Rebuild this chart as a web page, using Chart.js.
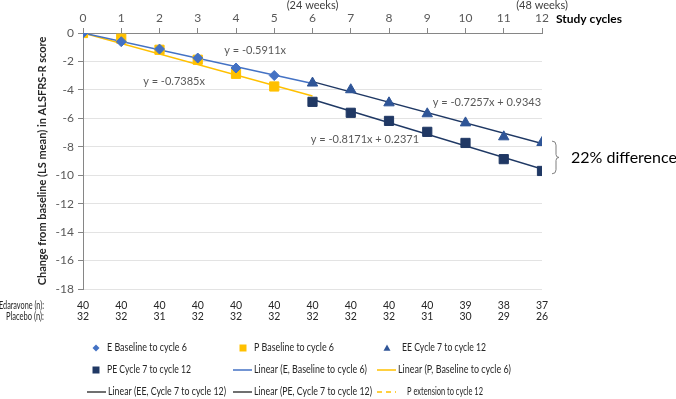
<!DOCTYPE html>
<html>
<head>
<meta charset="utf-8">
<script src="https://cdn.jsdelivr.net/npm/chart.js@4.4.1/dist/chart.umd.min.js"></script>
<style>
  body { margin: 0; background: #fff; }
  canvas { display: block; }
</style>
</head>
<body>
<canvas id="alsChart" width="676" height="399"></canvas>
<script>
// study cycles (top axis)
const cyclesBase = [0, 1, 2, 3, 4, 5];
const cyclesExt = [6, 7, 8, 9, 10, 11, 12];
const cyclesAll = [0, 1, 2, 3, 4, 5, 6, 7, 8, 9, 10, 11, 12];

// LS mean change from baseline
const eBaseline = [0, -0.61, -1.13, -1.76, -2.46, -2.99];
const pBaseline = [0, -0.40, -1.18, -1.88, -2.87, -3.76];
const eeCycles = [-3.52, -3.99, -4.91, -5.68, -6.32, -7.30, -7.70];
const peCycles = [-4.84, -5.61, -6.18, -6.95, -7.73, -8.87, -9.70];

// trend line end points
const eTrendX = [0, 6];
const eTrendY = [0, -3.55];
const pTrendX = [0, 6];
const pTrendY = [0, -4.43];
const eeTrendX = [6, 12];
const eeTrendY = [-3.42, -7.77];
const peTrendX = [6, 12];
const peTrendY = [-4.67, -9.57];

// patients per cycle
const edaravoneN = [40, 40, 40, 40, 40, 40, 40, 40, 40, 40, 39, 38, 37];
const placeboN = [32, 32, 31, 32, 32, 32, 32, 32, 32, 31, 30, 29, 26];

const equations = ['y = -0.5911x', 'y = -0.7385x', 'y = -0.7257x + 0.9343', 'y = -0.8171x + 0.2371'];

const FONT = 'Lato, "Open Sans", sans-serif';

function toPoints(xs, ys) {
    return xs.map((x, i) => ({ x: x, y: ys[i] }));
}

const datasets = [
    { label: 'E Baseline to cycle 6', data: toPoints(cyclesBase, eBaseline), pointStyle: 'rectRot', pointRadius: 5,
      backgroundColor: '#4472c4', borderColor: '#4472c4', showLine: false, order: 1 },
    { label: 'P Baseline to cycle 6', data: toPoints(cyclesBase, pBaseline), pointStyle: 'rect', pointRadius: 6.5,
      backgroundColor: '#ffc000', borderColor: '#ffc000', showLine: false, order: 1 },
    { label: 'EE Cycle 7 to cycle 12', data: toPoints(cyclesExt, eeCycles), pointStyle: 'triangle', pointRadius: 6,
      backgroundColor: '#2f5597', borderColor: '#2f5597', showLine: false, order: 1 },
    { label: 'PE Cycle 7 to cycle 12', data: toPoints(cyclesExt, peCycles), pointStyle: 'rect', pointRadius: 6.5,
      backgroundColor: '#203864', borderColor: '#203864', showLine: false, order: 1 },
    { label: 'Linear (E, Baseline to cycle 6)', data: toPoints(eTrendX, eTrendY), showLine: true, pointRadius: 0,
      borderColor: '#4472c4', borderWidth: 1.5, order: 2 },
    { label: 'Linear (P, Baseline to cycle 6)', data: toPoints(pTrendX, pTrendY), showLine: true, pointRadius: 0,
      borderColor: '#ffc000', borderWidth: 1.5, order: 2 },
    { label: 'Linear (EE, Cycle 7 to cycle 12)', data: toPoints(eeTrendX, eeTrendY), showLine: true, pointRadius: 0,
      borderColor: '#1f3864', borderWidth: 1.5, order: 2 },
    { label: 'Linear (PE, Cycle 7 to cycle 12)', data: toPoints(peTrendX, peTrendY), showLine: true, pointRadius: 0,
      borderColor: '#1f3864', borderWidth: 1.5, order: 2 },
    { label: 'P extension to cycle 12', data: [], showLine: true, pointRadius: 0,
      borderColor: '#ffc000', borderWidth: 1.5, borderDash: [5, 4], order: 2 },
];

// legend grid: marker x, text x, row y, max text width
const legendLayout = [
    { ds: 0, mx: 96, tx: 107, y: 348, w: 80, kind: 'marker' },
    { ds: 1, mx: 243, tx: 254, y: 348, w: 80, kind: 'marker' },
    { ds: 2, mx: 387, tx: 402, y: 348, w: 84, kind: 'marker' },
    { ds: 3, mx: 96, tx: 107, y: 370, w: 84, kind: 'marker' },
    { ds: 4, mx: 233, tx: 254, y: 370, w: 113, kind: 'line' },
    { ds: 5, mx: 377, tx: 398, y: 370, w: 113, kind: 'line' },
    { ds: 6, mx: 87, tx: 108, y: 392, w: 118, kind: 'line', color: '#404040' },
    { ds: 7, mx: 233, tx: 254, y: 392, w: 118, kind: 'line', color: '#404040' },
    { ds: 8, mx: 377, tx: 407, y: 392, w: 76, kind: 'dash' },
];

function drawMarker(ctx, style, x, y, s, color) {
    ctx.fillStyle = color;
    ctx.beginPath();
    if (style === 'rectRot') {
        ctx.moveTo(x, y - s); ctx.lineTo(x + s, y); ctx.lineTo(x, y + s); ctx.lineTo(x - s, y);
    } else if (style === 'triangle') {
        ctx.moveTo(x, y - s); ctx.lineTo(x + s, y + s * 0.8); ctx.lineTo(x - s, y + s * 0.8);
    } else {
        ctx.rect(x - s, y - s, 2 * s, 2 * s);
    }
    ctx.closePath();
    ctx.fill();
}

const extrasPlugin = {
    id: 'extras',
    afterDraw(chart) {
        const ctx = chart.ctx;
        const xs = chart.scales.x;
        const ys = chart.scales.y;
        ctx.save();

        // week markers and axis title above the top axis
        ctx.fillStyle = '#404040';
        ctx.font = '11px ' + FONT;
        ctx.textAlign = 'center';
        ctx.textBaseline = 'middle';
        ctx.fillText('(24 weeks)', xs.getPixelForValue(6), 5);
        ctx.fillText('(48 weeks)', xs.getPixelForValue(12), 5);
        ctx.fillStyle = '#000';
        ctx.font = 'bold 12px ' + FONT;
        ctx.textAlign = 'left';
        ctx.fillText('Study cycles', xs.right + 14, 19);

        // trend line equations
        const eqAnchors = [[4.5, -1.2], [2.38, -3.38], [10.56, -4.91], [7.37, -7.51]];
        ctx.fillStyle = '#595959';
        ctx.font = '11px ' + FONT;
        ctx.textAlign = 'center';
        equations.forEach((t, i) => {
            ctx.fillText(t, xs.getPixelForValue(eqAnchors[i][0]), ys.getPixelForValue(eqAnchors[i][1]));
        });

        // brace + 22% difference
        const bx = xs.right + 10;
        const top = ys.getPixelForValue(-7.6);
        const bot = ys.getPixelForValue(-9.9);
        const mid = (top + bot) / 2;
        ctx.strokeStyle = '#7f7f7f';
        ctx.lineWidth = 1;
        ctx.beginPath();
        ctx.moveTo(bx, top);
        ctx.quadraticCurveTo(bx + 4, top, bx + 4, top + 4);
        ctx.lineTo(bx + 4, mid - 3);
        ctx.quadraticCurveTo(bx + 4, mid, bx + 7, mid);
        ctx.quadraticCurveTo(bx + 4, mid, bx + 4, mid + 3);
        ctx.lineTo(bx + 4, bot - 4);
        ctx.quadraticCurveTo(bx + 4, bot, bx, bot);
        ctx.stroke();
        ctx.fillStyle = '#000';
        ctx.font = '16px ' + FONT;
        ctx.textAlign = 'left';
        ctx.fillText('22% difference', bx + 19, mid);

        // n per cycle rows
        ctx.fillStyle = '#262626';
        ctx.font = '10.5px ' + FONT;
        ctx.textAlign = 'right';
        ctx.fillText('Edaravone (n):', 44, 306, 45);
        ctx.fillText('Placebo (n):', 44, 317, 38);
        ctx.textAlign = 'center';
        cyclesAll.forEach((c, i) => {
            const px = xs.getPixelForValue(c);
            ctx.fillText(String(edaravoneN[i]), px, 306);
            ctx.fillText(String(placeboN[i]), px, 317);
        });

        // legend
        ctx.font = '10.5px ' + FONT;
        ctx.textAlign = 'left';
        legendLayout.forEach(item => {
            const ds = chart.data.datasets[item.ds];
            if (item.kind === 'marker') {
                drawMarker(ctx, ds.pointStyle, item.mx, item.y, 3.5, ds.backgroundColor);
            } else {
                ctx.strokeStyle = item.color || ds.borderColor;
                ctx.lineWidth = 1.5;
                ctx.setLineDash(item.kind === 'dash' ? [5, 4] : []);
                ctx.beginPath();
                ctx.moveTo(item.mx, item.y);
                ctx.lineTo(item.mx + 19, item.y);
                ctx.stroke();
                ctx.setLineDash([]);
            }
            ctx.fillStyle = '#262626';
            ctx.fillText(ds.label, item.tx, item.y, item.w);
        });

        ctx.restore();
    }
};

const ctx = document.getElementById('alsChart').getContext('2d');
new Chart(ctx, {
    type: 'scatter',
    data: { datasets: datasets },
    options: {
        responsive: false,
        animation: false,
        layout: { padding: { left: 30, top: 0, right: 134, bottom: 110 } },
        plugins: {
            legend: { display: false },
            tooltip: { enabled: false },
        },
        scales: {
            x: {
                type: 'linear',
                position: 'top',
                min: 0,
                max: 12,
                afterFit: s => { s.height = 33; },
                ticks: { stepSize: 1, color: '#595959', font: { family: FONT, size: 12 }, padding: 3 },
                grid: { drawOnChartArea: false, tickLength: 5, tickColor: '#868686' },
                border: { color: '#868686' },
            },
            y: {
                min: -18,
                max: 0,
                afterFit: s => { s.width = 53; },
                ticks: { stepSize: 2, color: '#595959', font: { family: FONT, size: 12 }, padding: 4 },
                grid: { color: '#e3e3e3', tickLength: 5, tickColor: '#868686' },
                border: { color: '#868686' },
                title: {
                    display: true,
                    text: 'Change from baseline (LS mean) in ALSFRS-R score',
                    color: '#262626',
                    font: { family: FONT, size: 11, weight: 'bold' },
                    padding: { top: 6, bottom: 0 },
                },
            },
        },
    },
    plugins: [extrasPlugin],
});
</script>
</body>
</html>
